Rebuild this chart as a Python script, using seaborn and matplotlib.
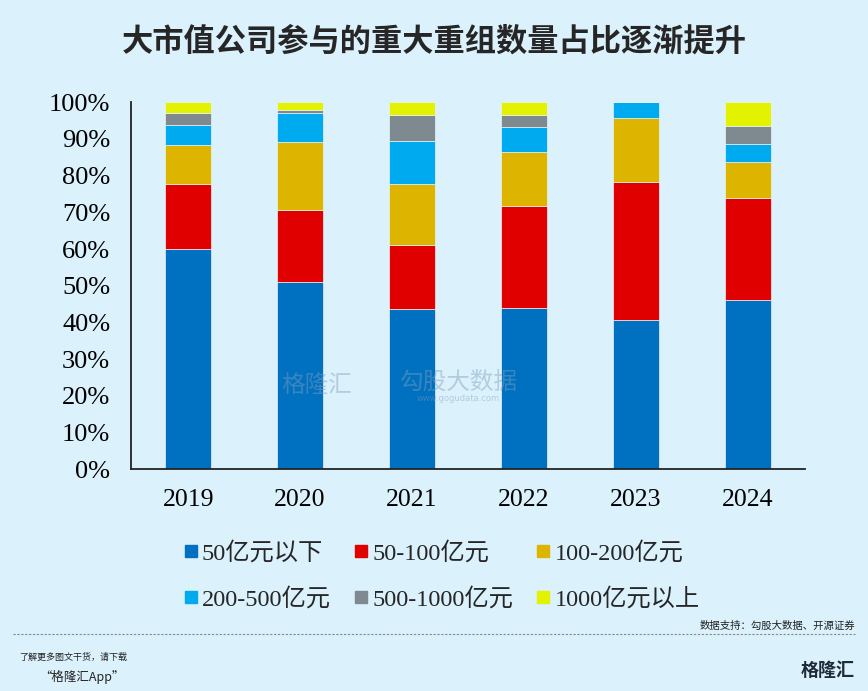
import numpy as np
import pandas as pd
import matplotlib
matplotlib.use('Agg')
import matplotlib.pyplot as plt
import seaborn as sns
from matplotlib.lines import Line2D

# data (share of deals, %)
years = ['2019', '2020', '2021', '2022', '2023', '2024']
categories = ['50亿元以下', '50-100亿元', '100-200亿元', '200-500亿元', '500-1000亿元', '1000亿元以上']
below_50 = [60.0, 51.0, 43.6, 44.0, 40.6, 46.0]
r_50_100 = [17.8, 19.6, 17.4, 27.8, 37.6, 27.8]
r_100_200 = [10.6, 18.6, 16.7, 14.7, 17.4, 9.9]
r_200_500 = [5.4, 7.9, 11.8, 6.8, 4.4, 4.9]
r_500_1000 = [3.2, 0.9, 6.9, 3.2, 0.0, 4.8]
above_1000 = [3.0, 2.0, 3.6, 3.5, 0.0, 6.6]

series = [below_50, r_50_100, r_100_200, r_200_500, r_500_1000, above_1000]
colors = ['#0070c0', '#e00000', '#ddb400', '#00aaee', '#7f8a90', '#e2f200']

bg = '#dbf1fc'
sns.set_style('white')
plt.rcParams['font.family'] = ['Liberation Serif', 'Noto Sans CJK SC', 'DejaVu Sans']

fig = plt.figure(figsize=(8.68, 6.91), dpi=100, facecolor=bg)
ax = fig.add_axes([0.151, 0.321, 0.776, 0.531])
ax.set_facecolor(bg)

bottom = np.zeros(len(years))
for vals, col, name in zip(series, colors, categories):
    df = pd.DataFrame({'year': years, 'value': vals})
    sns.barplot(data=df, x='year', y='value', bottom=bottom, color=col,
                saturation=1, width=0.41, edgecolor='#e8f4fb', linewidth=0.5,
                ax=ax, zorder=2)
    bottom = bottom + np.array(vals)

ax.set_xlim(-0.51, 5.51)
ax.set_ylim(0, 100)
ax.set_yticks(np.arange(0, 101, 10))
ax.set_yticklabels([f'{v}%' for v in range(0, 101, 10)])
ax.set_xlabel('')
ax.set_ylabel('')

ax.tick_params(axis='y', direction='in', length=5, width=1.2, labelsize=19, pad=15, colors='#222222', labelcolor='black')
ax.tick_params(axis='x', which='major', length=0, labelsize=18.5, pad=14, labelcolor='black')
ax.set_xticks(np.arange(0.5, 5.6, 1), minor=True)
ax.tick_params(axis='x', which='minor', direction='in', length=5, width=1.2, colors='#222222')

for s in ['top', 'right']:
    ax.spines[s].set_visible(False)
for s in ['left', 'bottom']:
    ax.spines[s].set_color('#222222')
    ax.spines[s].set_linewidth(1.3)

# legend: 2 rows x 3 columns
handles = [Line2D([], [], marker='s', linestyle='none', markersize=9,
                  markerfacecolor=c, markeredgecolor=c) for c in colors]
order = [0, 3, 1, 4, 2, 5]
fig.legend([handles[i] for i in order], [categories[i] for i in order],
           ncol=3, loc='center', bbox_to_anchor=(0.508, 0.166), frameon=False,
           fontsize=17.5, handletextpad=0.1, columnspacing=0.9, labelspacing=0.95,
           handlelength=0.7)

# title
fig.text(0.5, 0.94, '大市值公司参与的重大重组数量占比逐渐提升', ha='center', va='center',
         fontsize=22.5, fontweight='bold', family=['Noto Sans CJK SC'])

# watermark
fig.text(0.365, 0.442, '格隆汇', ha='center', va='center', fontsize=17,
         family=['Noto Sans CJK SC'], color='#7f9fbd', alpha=0.45, zorder=10)
fig.text(0.528, 0.447, '勾股大数据', ha='center', va='center', fontsize=17,
         family=['Noto Sans CJK SC'], color='#7f9fbd', alpha=0.45, zorder=10)
fig.text(0.528, 0.423, 'www.gogudata.com', ha='center', va='center', fontsize=6,
         family=['DejaVu Sans'], color='#7f9fbd', alpha=0.45, zorder=10)

# source + footer
fig.text(0.985, 0.094, '数据支持：勾股大数据、开源证券', ha='right', va='center',
         fontsize=7.5, family=['Noto Sans CJK SC'], color='#222222')
fig.add_artist(Line2D([0.015, 0.985], [0.082, 0.082], transform=fig.transFigure,
                      color='#888888', linestyle=(0, (2, 1.5)), linewidth=0.8))
fig.text(0.022, 0.048, '了解更多图文干货，请下载', ha='left', va='center',
         fontsize=6.5, style='italic', family=['Noto Sans CJK SC'], color='#222222')
fig.text(0.045, 0.02, '“格隆汇App”', ha='left', va='center',
         fontsize=9, style='italic', family=['Noto Sans CJK SC'], color='#222222')
fig.text(0.985, 0.03, '格隆汇', ha='right', va='center', fontsize=13,
         fontweight='bold', family=['Noto Sans CJK SC'], color='#1f2a3a')

fig.savefig('out.png', dpi=100, facecolor=bg)
